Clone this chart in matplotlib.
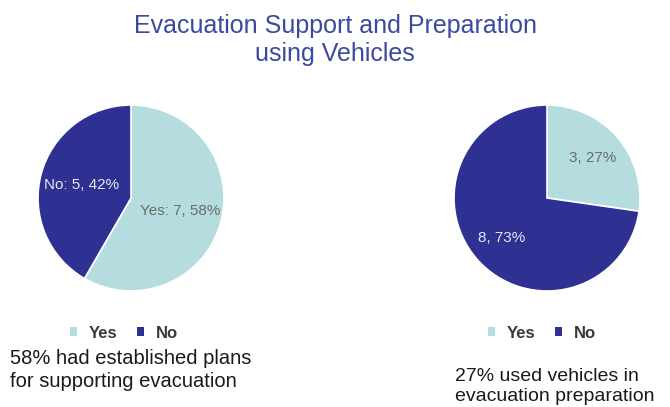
import matplotlib.pyplot as plt
from matplotlib.patches import Patch

plt.rcParams['font.family'] = ['Liberation Sans', 'DejaVu Sans']

categories = ["Yes", "No"]
plans_counts = [7, 5]
vehicle_counts = [3, 8]
title = "Evacuation Support and Preparation\nusing Vehicles"
plans_caption = "58% had established plans\nfor supporting evacuation"
vehicle_caption = "27% used vehicles in\nevacuation preparation"

LIGHT = "#b5dde0"
DARK = "#2e3192"
W, H = 670, 407

fig = plt.figure(figsize=(W / 100, H / 100), dpi=100)


def pie_axes(cx, cy, r):
    return fig.add_axes([(cx - r) / W, (H - cy - r) / H, 2 * r / W, 2 * r / H])


def draw_pie(ax, counts, fmt, dist):
    total = sum(counts)
    wedges, texts, autotexts = ax.pie(
        counts, colors=[LIGHT, DARK], startangle=90, counterclock=False,
        autopct=lambda p: '', pctdistance=dist,
        wedgeprops=dict(edgecolor='white', linewidth=1.2))
    for i, t in enumerate(autotexts):
        n = counts[i]
        t.set_text(fmt.format(cat=categories[i], n=n, p=round(100 * n / total)))
        t.set_fontsize(11)
        t.set_color('#6b6b6b' if i == 0 else '#e6e6f2')
    ax.set_xlim(-1, 1)
    ax.set_ylim(-1, 1)
    ax.set_aspect('equal')
    ax.axis('off')


ax1 = pie_axes(131, 198, 93)
draw_pie(ax1, plans_counts, "{cat}: {n}, {p}%", 0.55)
ax2 = pie_axes(547, 198, 93)
draw_pie(ax2, vehicle_counts, "{n}, {p}%", 0.65)

handles = [Patch(facecolor=LIGHT), Patch(facecolor=DARK)]
for cx in (124 / W, 542 / W):
    leg = fig.legend(handles, categories, loc='center', bbox_to_anchor=(cx, 1 - 333 / H),
                     ncol=2, frameon=False, handlelength=0.4, handleheight=0.4,
                     handletextpad=0.7, columnspacing=1.2,
                     prop=dict(size=12, weight='bold'))
    for t in leg.get_texts():
        t.set_color('#3a3a3a')

fig.text(0.5, 1 - 40 / H, title, ha='center', va='center', fontsize=18,
         color='#3b4a9f', linespacing=1.25)
fig.text(10 / W, 1 - 370 / H, plans_caption, ha='left', va='center',
         fontsize=14.5, color='#1a1a1a', linespacing=1.3)
fig.text(455 / W, 2 / H, vehicle_caption, ha='left', va='bottom',
         fontsize=14, color='#1a1a1a', linespacing=1.2)

fig.savefig('out.png', dpi=100)
